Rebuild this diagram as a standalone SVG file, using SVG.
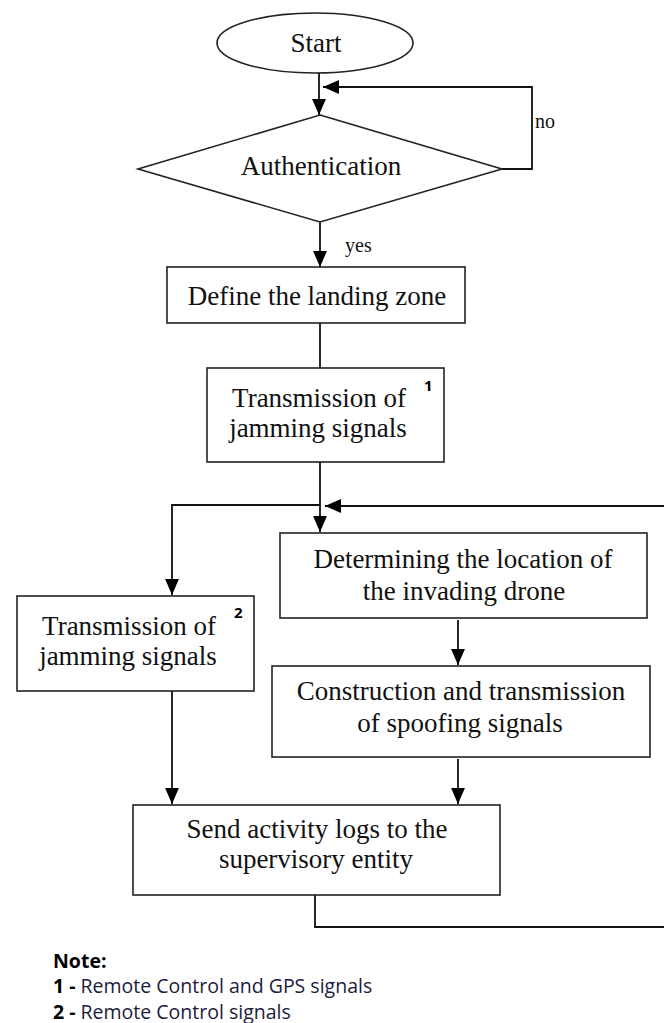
<svg xmlns="http://www.w3.org/2000/svg" width="664" height="1023" viewBox="0 0 664 1023">
<defs>
<marker id="ah" markerUnits="userSpaceOnUse" markerWidth="16" markerHeight="14" viewBox="0 0 15 13" refX="15" refY="6.5" orient="auto">
<path d="M0,0 L15,6.5 L0,13 Z" fill="#000"/>
</marker>
<style>
.shape{fill:#fff;stroke:#222;stroke-width:1.6}
.t{font-family:"Liberation Serif","Times New Roman",serif;font-size:27px;fill:#111;text-anchor:middle}
.lbl{font-family:"Liberation Serif","Times New Roman",serif;font-size:20px;fill:#111}
.sup{font-family:"Open Sans","Liberation Sans",sans-serif;font-size:15px;font-weight:bold;fill:#000}
.c{fill:none;stroke:#111;stroke-width:1.8}
.note{font-family:"Open Sans","Liberation Sans",sans-serif;font-size:19.5px;fill:#1c1c3c}
.nb{font-weight:bold;fill:#000}
</style>
</defs>
<rect width="664" height="1023" fill="#fff"/>

<g id="connectors">
<path class="c" d="M319,73 V115" marker-end="url(#ah)"/>
<path class="c" d="M502,169 H532 V87 H323" marker-end="url(#ah)"/>
<path class="c" d="M320,222 V267" marker-end="url(#ah)"/>
<path class="c" d="M320,323 V368"/>
<path class="c" d="M320,462 V532" marker-end="url(#ah)"/>
<path class="c" d="M320,505 H172 V595" marker-end="url(#ah)"/>
<path class="c" d="M664,506 H325" marker-end="url(#ah)"/>
<path class="c" d="M458,620 V665" marker-end="url(#ah)"/>
<path class="c" d="M172,691 V804" marker-end="url(#ah)"/>
<path class="c" d="M458,759 V804" marker-end="url(#ah)"/>
<path class="c" d="M315,895 V927 H664"/>
<text class="lbl" x="535" y="128">no</text>
<text class="lbl" x="345" y="252">yes</text>
</g>

<g id="start">
<ellipse class="shape" cx="315" cy="43" rx="98" ry="30"/>
<text class="t" x="316" y="52">Start</text>
</g>

<g id="authentication">
<polygon class="shape" points="320,115 502,169 320,222 138,169"/>
<text class="t" x="321" y="175">Authentication</text>
</g>

<g id="define-landing-zone">
<rect class="shape" x="167" y="267" width="298" height="56"/>
<text class="t" x="317" y="305">Define the landing zone</text>
</g>

<g id="transmission-1">
<rect class="shape" x="207" y="368" width="237" height="94"/>
<text class="t" x="319" y="407">Transmission of</text>
<text class="t" x="318" y="437">jamming signals</text>
<text class="sup" x="424" y="391">1</text>
</g>

<g id="transmission-2">
<rect class="shape" x="17" y="596" width="237" height="95"/>
<text class="t" x="129" y="635">Transmission of</text>
<text class="t" x="128" y="665">jamming signals</text>
<text class="sup" x="234" y="618">2</text>
</g>

<g id="determining-location">
<rect class="shape" x="280" y="533" width="367" height="85"/>
<text class="t" x="463" y="568">Determining the location of</text>
<text class="t" x="464" y="600">the invading drone</text>
</g>

<g id="construction-spoofing">
<rect class="shape" x="272" y="666" width="378" height="91"/>
<text class="t" x="461" y="700">Construction and transmission</text>
<text class="t" x="460" y="732">of spoofing signals</text>
</g>

<g id="send-logs">
<rect class="shape" x="133" y="805" width="367" height="90"/>
<text class="t" x="317" y="838">Send activity logs to the</text>
<text class="t" x="316" y="868">supervisory entity</text>
</g>

<g id="note">
<text class="note nb" x="53" y="968">Note:</text>
<text class="note" x="53" y="993"><tspan class="nb">1 -</tspan> Remote Control and GPS signals</text>
<text class="note" x="53" y="1019"><tspan class="nb">2 -</tspan> Remote Control signals</text>
</g>
</svg>
